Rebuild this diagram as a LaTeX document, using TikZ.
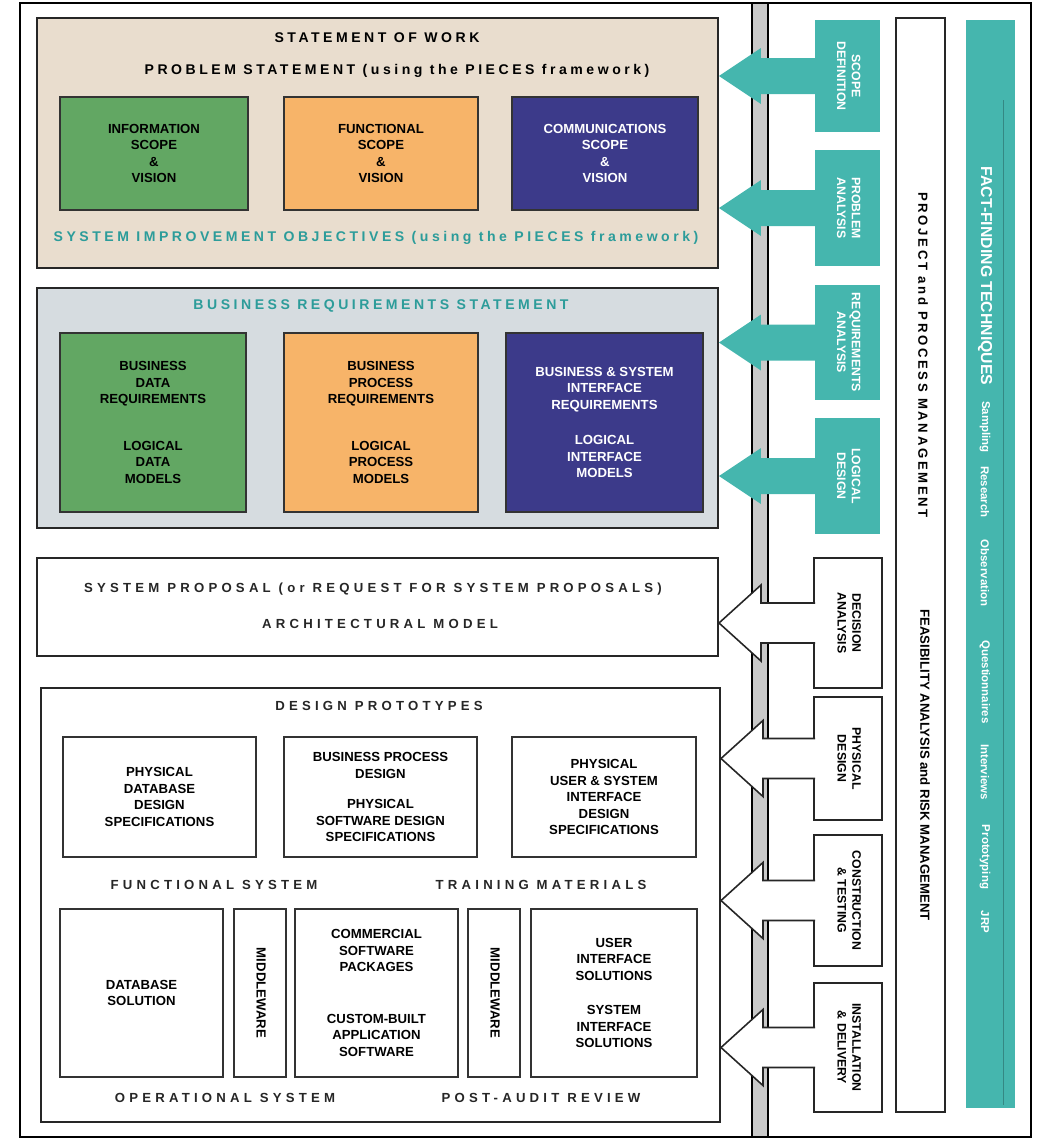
\documentclass[tikz,border=0pt]{standalone}
\usepackage{fontspec}
\setmainfont{Liberation Sans}
\newfontfamily\hdrfont[LetterSpace=25]{Liberation Sans}
\newfontfamily\sidefont[LetterSpace=20]{Liberation Sans}
\newfontfamily\wdrfont[LetterSpace=32]{Liberation Sans}
\usepackage{graphicx}
\usetikzlibrary{calc}

\definecolor{sowfill}{HTML}{E9DDCE}
\definecolor{brsfill}{HTML}{D6DCE0}
\definecolor{infogreen}{HTML}{62A763}
\definecolor{funcorange}{HTML}{F7B469}
\definecolor{commnavy}{HTML}{3C3A8A}
\definecolor{phaseteal}{HTML}{45B6AE}
\definecolor{titleteal}{HTML}{2C9C9A}
\definecolor{bargray}{HTML}{C9C9C9}

\newcommand{\cellfont}{\fontsize{7.5}{9.4}\selectfont\bfseries}
\newcommand{\vtext}[1]{\rotatebox{-90}{\begin{tabular}{@{}c@{}}#1\end{tabular}}}

\tikzset{
  panel/.style={draw=black!85, line width=1.2pt, minimum width=13.62cm, inner sep=0pt},
  cell/.style={draw=black!80, line width=0.9pt, align=center, inner sep=0pt, font=\cellfont},
  whitecell/.style={cell, fill=white},
  heading/.style={inner sep=0pt, font=\fontsize{8}{9}\selectfont\hdrfont\bfseries},
  wideheading/.style={inner sep=0pt, text=black!85, font=\fontsize{7.5}{9}\selectfont\wdrfont\bfseries},
  phasebox/.style={fill=phaseteal, minimum width=1.3cm, inner sep=0pt, text=white, font=\fontsize{7}{8.5}\selectfont\bfseries},
  stepbox/.style={draw=black!85, line width=0.9pt, fill=white, minimum width=1.36cm, inner sep=0pt, font=\fontsize{7}{8.5}\selectfont\bfseries},
  sidebox/.style={draw=black!85, line width=0.9pt, fill=white, minimum width=0.98cm, inner sep=0pt},
  sidetext/.style={inner sep=0pt, font=\fontsize{7.5}{9}\selectfont\bfseries},
  strip/.style={fill=phaseteal, minimum width=0.98cm, inner sep=0pt},
  striptext/.style={inner sep=0pt, text=white, font=\fontsize{6.5}{8}\selectfont\bfseries},
  tealflow/.style={fill=phaseteal},
  whiteflow/.style={fill=white, draw=black!85, line width=0.9pt}
}

\begin{document}
\begin{tikzpicture}[x=0.02cm, y=-0.02cm]
\useasboundingbox (0,0) rectangle (1037,1140);

% frame and divider
\draw[line width=1pt] (20,3) rectangle (1031,1137);
\draw[fill=bargray, line width=0.8pt] (752,3) rectangle (768,1137);

% statement of work
\node[panel, fill=sowfill, minimum height=5cm] (sow) at (377.5,143) {};
\node[heading] (sowt) at (377,38) {STATEMENT OF WORK};
\node[heading] (pst) at (397,71) {PROBLEM STATEMENT (using the PIECES framework)};

\node[cell, fill=infogreen, minimum width=3.76cm, minimum height=2.26cm] (isv) at (154,153.5) {INFORMATION\\SCOPE\\\&\\VISION};
\node[cell, fill=funcorange, minimum width=3.88cm, minimum height=2.26cm] (fsv) at (381,153.5) {FUNCTIONAL\\SCOPE\\\&\\VISION};
\node[cell, fill=commnavy, text=white, minimum width=3.72cm, minimum height=2.26cm] (csv) at (605,153.5) {COMMUNICATIONS\\SCOPE\\\&\\VISION};

\node[heading, text=titleteal] (sio) at (376,238) {SYSTEM IMPROVEMENT OBJECTIVES (using the PIECES framework)};

% business requirements
\node[panel, fill=brsfill, minimum height=4.8cm] (brs) at (377.5,408) {};
\node[heading, text=titleteal] (brst) at (381,306) {BUSINESS REQUIREMENTS STATEMENT};

\node[cell, fill=infogreen, minimum width=3.72cm, minimum height=3.58cm] (bdr) at (153,422.5) {BUSINESS\\DATA\\REQUIREMENTS\\[17pt]LOGICAL\\DATA\\MODELS};
\node[cell, fill=funcorange, minimum width=3.88cm, minimum height=3.58cm] (bpr) at (381,422.5) {BUSINESS\\PROCESS\\REQUIREMENTS\\[17pt]LOGICAL\\PROCESS\\MODELS};
\node[cell, fill=commnavy, text=white, minimum width=3.94cm, minimum height=3.58cm] (bsir) at (604.5,422.5) {BUSINESS \& SYSTEM\\INTERFACE\\REQUIREMENTS\\[11pt]LOGICAL\\INTERFACE\\MODELS};

% system proposal
\node[panel, fill=white, minimum height=1.96cm] (prop) at (377.5,607) {};
\node[wideheading] (spt) at (373,589) {SYSTEM PROPOSAL\hspace{0.6em}(or\hspace{0.6em}REQUEST FOR SYSTEM PROPOSALS)};
\node[wideheading] (amt) at (380,624) {ARCHITECTURAL MODEL};

% design and construction
\node[panel, fill=white, minimum width=13.58cm, minimum height=8.68cm] (dsgn) at (380.5,905) {};
\node[wideheading] (dpt) at (379,706) {DESIGN PROTOTYPES};

\node[whitecell, minimum width=3.86cm, minimum height=2.4cm] (pdds) at (159.5,797) {PHYSICAL\\DATABASE\\DESIGN\\SPECIFICATIONS};
\node[whitecell, minimum width=3.86cm, minimum height=2.4cm] (bpd) at (380.5,797) {BUSINESS PROCESS\\DESIGN\\[8pt]PHYSICAL\\SOFTWARE DESIGN\\SPECIFICATIONS};
\node[whitecell, minimum width=3.68cm, minimum height=2.4cm] (pusi) at (604,797) {PHYSICAL\\USER \& SYSTEM\\INTERFACE\\DESIGN\\SPECIFICATIONS};

\node[wideheading] (fst) at (214,885) {FUNCTIONAL SYSTEM};
\node[wideheading] (tmt) at (541,885) {TRAINING MATERIALS};

\node[whitecell, minimum width=3.26cm, minimum height=3.36cm] (dbs) at (141.5,993) {DATABASE\\SOLUTION};
\node[whitecell, minimum width=1.04cm, minimum height=3.36cm] (mw1) at (260,993) {\vtext{MIDDLEWARE}};
\node[whitecell, minimum width=3.26cm, minimum height=3.36cm] (csp) at (376.5,993) {COMMERCIAL\\SOFTWARE\\PACKAGES\\[20pt]CUSTOM-BUILT\\APPLICATION\\SOFTWARE};
\node[whitecell, minimum width=1.04cm, minimum height=3.36cm] (mw2) at (494,993) {\vtext{MIDDLEWARE}};
\node[whitecell, minimum width=3.32cm, minimum height=3.36cm] (uis) at (614,993) {USER\\INTERFACE\\SOLUTIONS\\[10pt]SYSTEM\\INTERFACE\\SOLUTIONS};

\node[wideheading] (ost) at (225,1098) {OPERATIONAL SYSTEM};
\node[wideheading] (part) at (541,1098) {POST-AUDIT REVIEW};

% analysis phases
\node[phasebox, minimum height=2.24cm] (sd) at (847.5,76) {\vtext{SCOPE\\DEFINITION}};
\node[phasebox, minimum height=2.32cm] (pa) at (847.5,208) {\vtext{PROBLEM\\ANALYSIS}};
\node[phasebox, minimum height=2.3cm] (ra) at (847.5,342.5) {\vtext{REQUIREMENTS\\ANALYSIS}};
\node[phasebox, minimum height=2.32cm] (ld) at (847.5,476) {\vtext{LOGICAL\\DESIGN}};

% design phases
\node[stepbox, minimum height=2.6cm] (da) at (848,623) {\vtext{DECISION\\ANALYSIS}};
\node[stepbox, minimum height=2.46cm] (pd) at (848,758.5) {\vtext{PHYSICAL\\DESIGN}};
\node[stepbox, minimum height=2.62cm] (ct) at (848,900.5) {\vtext{CONSTRUCTION\\\& TESTING}};
\node[stepbox, minimum height=2.58cm] (id) at (848,1047.5) {\vtext{INSTALLATION\\\& DELIVERY}};

\path (sow.east |- sd.west) coordinate (sdtip);
\path (sow.east |- pa.west) coordinate (patip);
\path (brs.east |- ra.west) coordinate (ratip);
\path (brs.east |- ld.west) coordinate (ldtip);

\fill[tealflow] ($(sd.west)+(1,-18)$) -- ($(sdtip)+(42,-18)$) -- ++(0,-10) -- (sdtip) -- ++(42,28) -- ++(0,-10) -- ($(sd.west)+(1,18)$) -- cycle;
\fill[tealflow] ($(pa.west)+(1,-18)$) -- ($(patip)+(42,-18)$) -- ++(0,-10) -- (patip) -- ++(42,28) -- ++(0,-10) -- ($(pa.west)+(1,18)$) -- cycle;
\fill[tealflow] ($(ra.west)+(1,-18)$) -- ($(ratip)+(42,-18)$) -- ++(0,-10) -- (ratip) -- ++(42,28) -- ++(0,-10) -- ($(ra.west)+(1,18)$) -- cycle;
\fill[tealflow] ($(ld.west)+(1,-18)$) -- ($(ldtip)+(42,-18)$) -- ++(0,-10) -- (ldtip) -- ++(42,28) -- ++(0,-10) -- ($(ld.west)+(1,18)$) -- cycle;

\path (prop.east |- da.west) coordinate (datip);
\path (dsgn.east |- pd.west) coordinate (pdtip);
\path (dsgn.east |- ct.west) coordinate (cttip);
\path (dsgn.east |- id.west) coordinate (idtip);

\draw[whiteflow] ($(da.west)+(2,-20)$) -- ($(datip)+(42,-20)$) -- ++(0,-18) -- (datip) -- ++(42,38) -- ++(0,-18) -- ($(da.west)+(2,20)$);
\draw[whiteflow] ($(pd.west)+(2,-20)$) -- ($(pdtip)+(42,-20)$) -- ++(0,-18) -- (pdtip) -- ++(42,38) -- ++(0,-18) -- ($(pd.west)+(2,20)$);
\draw[whiteflow] ($(ct.west)+(2,-20)$) -- ($(cttip)+(42,-20)$) -- ++(0,-18) -- (cttip) -- ++(42,38) -- ++(0,-18) -- ($(ct.west)+(2,20)$);
\draw[whiteflow] ($(id.west)+(2,-20)$) -- ($(idtip)+(42,-20)$) -- ++(0,-18) -- (idtip) -- ++(42,38) -- ++(0,-18) -- ($(id.west)+(2,20)$);

% cross life cycle
\node[sidebox, minimum height=21.88cm] (ppm) at (920.5,565) {};
\node[sidetext] (ppmt) at (923,355) {\rotatebox{-90}{\sidefont PROJECT and PROCESS MANAGEMENT}};
\node[sidetext] (fart) at (925,765) {\rotatebox{-90}{FEASIBILITY ANALYSIS and RISK MANAGEMENT}};

\node[strip, minimum height=21.76cm] (fft) at (990.5,564) {};
\draw[phaseteal!75!black, line width=0.4pt] (1003,100) -- (1003,1105);
\node[striptext, font=\fontsize{9}{10}\selectfont\bfseries] (fftt) at (985,276) {\rotatebox{-90}{FACT-FINDING TECHNIQUES}};
\node[striptext] (smp) at (985,427) {\rotatebox{-90}{Sampling}};
\node[striptext] (rsc) at (985,492) {\rotatebox{-90}{Research}};
\node[striptext] (obs) at (985,573) {\rotatebox{-90}{Observation}};
\node[striptext] (qst) at (985,682) {\rotatebox{-90}{Questionnaires}};
\node[striptext] (itv) at (985,772) {\rotatebox{-90}{Interviews}};
\node[striptext] (ptt) at (985,857) {\rotatebox{-90}{Prototyping}};
\node[striptext] (jrp) at (985,922) {\rotatebox{-90}{JRP}};

\end{tikzpicture}
\end{document}
